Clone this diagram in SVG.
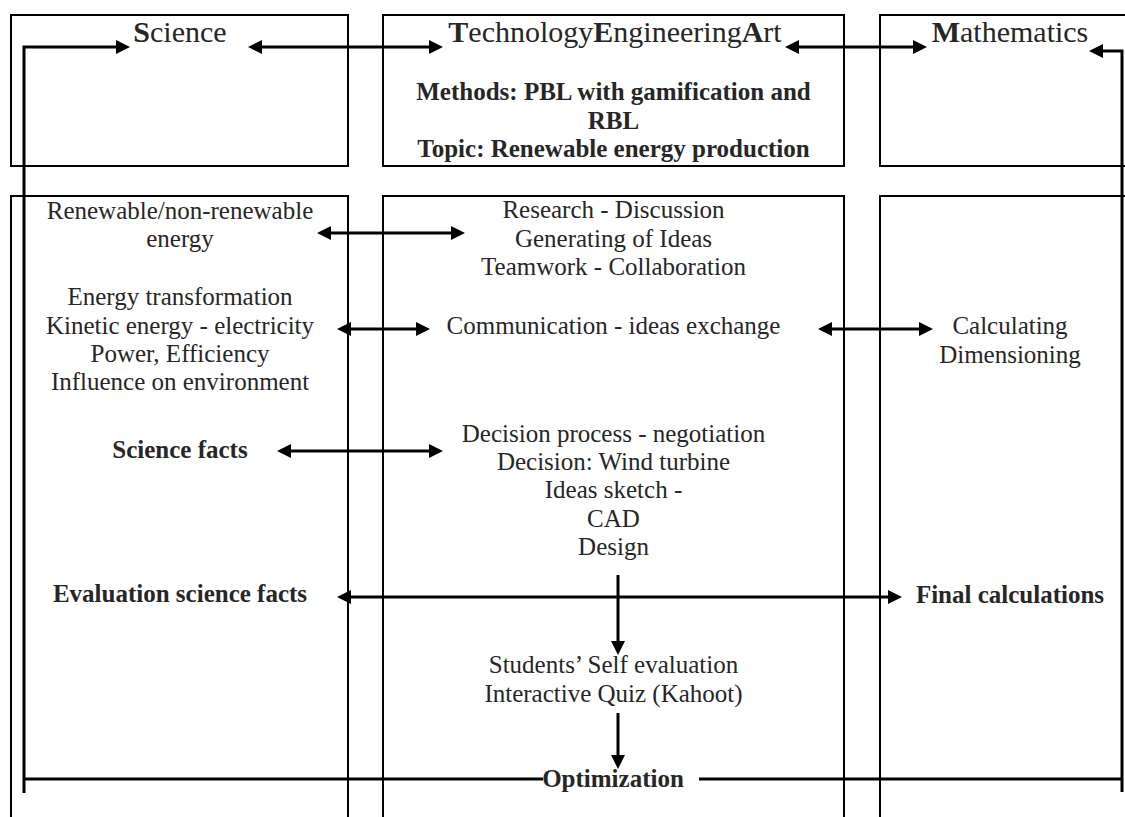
<svg xmlns="http://www.w3.org/2000/svg" width="1125" height="817" viewBox="0 0 1125 817">
<defs>
<marker id="ah" markerUnits="userSpaceOnUse" markerWidth="14" markerHeight="14" refX="6" refY="7" orient="auto-start-reverse">
<path d="M0,0 L14,7 L0,14 z" fill="#000"/>
</marker>
<style>
.box{fill:none;stroke:#000;stroke-width:2}
.t{font-family:"Liberation Serif","Times New Roman",serif;font-size:25px;fill:#262626;text-anchor:middle}
.b{font-weight:bold}
.h{font-size:30px}
.c{fill:none;stroke:#000;stroke-width:3}
.a{fill:none;stroke:#000;stroke-width:3;marker-start:url(#ah);marker-end:url(#ah)}
.e{fill:none;stroke:#000;stroke-width:3;marker-end:url(#ah)}
</style>
</defs>
<rect width="1125" height="817" fill="#fff"/>
<g id="science-head">
<rect class="box" x="11" y="15" width="337" height="151"/>
<text class="t h" x="180" y="42"><tspan class="b">S</tspan>cience</text>
</g>
<g id="tea-head">
<rect class="box" x="383" y="15" width="461" height="151"/>
<text class="t h" x="615" y="42"><tspan class="b">T</tspan>echnology<tspan class="b">E</tspan>ngineering<tspan class="b">A</tspan>rt</text>
<text class="t b" x="613.5" y="100">Methods: PBL with gamification and</text>
<text class="t b" x="613.5" y="129">RBL</text>
<text class="t b" x="613.5" y="157">Topic: Renewable energy production</text>
</g>
<g id="math-head">
<rect class="box" x="880" y="15" width="300" height="151"/>
<text class="t h" x="1010" y="42"><tspan class="b">M</tspan>athematics</text>
</g>
<g id="science-col">
<rect class="box" x="11" y="196" width="337" height="700"/>
<text class="t" x="180" y="219">Renewable/non-renewable</text>
<text class="t" x="180" y="247">energy</text>
<text class="t" x="180" y="305">Energy transformation</text>
<text class="t" x="180" y="334">Kinetic energy - electricity</text>
<text class="t" x="180" y="362">Power, Efficiency</text>
<text class="t" x="180" y="390">Influence on environment</text>
<text class="t b" x="180" y="458">Science facts</text>
<text class="t b" x="180" y="602">Evaluation science facts</text>
</g>
<g id="tea-col">
<rect class="box" x="383" y="196" width="461" height="700"/>
<text class="t" x="613.5" y="218">Research - Discussion</text>
<text class="t" x="613.5" y="247">Generating of Ideas</text>
<text class="t" x="613.5" y="275">Teamwork - Collaboration</text>
<text class="t" x="613.5" y="334">Communication - ideas exchange</text>
<text class="t" x="613.5" y="442">Decision process - negotiation</text>
<text class="t" x="613.5" y="470">Decision: Wind turbine</text>
<text class="t" x="613.5" y="498">Ideas sketch -</text>
<text class="t" x="613.5" y="527">CAD</text>
<text class="t" x="613.5" y="555">Design</text>
<text class="t" x="613.5" y="673">Students’ Self evaluation</text>
<text class="t" x="613.5" y="702">Interactive Quiz (Kahoot)</text>
<text class="t b" x="613" y="787">Optimization</text>
</g>
<g id="math-col">
<rect class="box" x="880" y="196" width="300" height="700"/>
<text class="t" x="1010" y="334">Calculating</text>
<text class="t" x="1010" y="363">Dimensioning</text>
<text class="t b" x="1010" y="603">Final calculations</text>
</g>
<g id="connectors">
<path class="e" d="M24,793 L24,47 L122,47"/>
<path class="e" d="M1122,792 L1122,51 L1097,51"/>
<path class="c" d="M24,779 L543,779 M699,779 L1122,779"/>
<path class="a" d="M256,47 L435,47"/>
<path class="a" d="M793,47 L919,47"/>
<path class="a" d="M325,233 L457,233"/>
<path class="a" d="M345,329 L422,329"/>
<path class="a" d="M826,329 L925,329"/>
<path class="a" d="M285,451 L435,451"/>
<path class="a" d="M345,597 L894,597"/>
<path class="e" d="M618,575 L618,647"/>
<path class="e" d="M618,713 L618,761"/>
</g>
</svg>
